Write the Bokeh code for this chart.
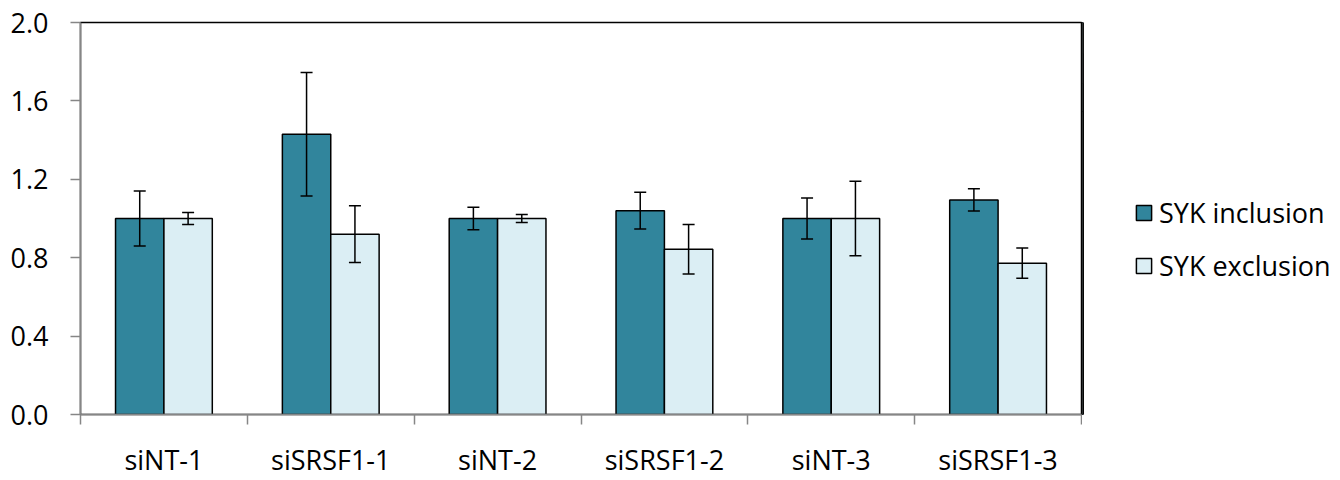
from bokeh.plotting import figure
from bokeh.layouts import row
from bokeh.models import (ColumnDataSource, Range1d, FixedTicker,
                          Whisker, TeeHead, Legend, LegendItem, NumeralTickFormatter)
from bokeh.transform import dodge
from bokeh.embed import file_html
from bokeh.resources import INLINE

categories = ["siNT-1", "siSRSF1-1", "siNT-2", "siSRSF1-2", "siNT-3", "siSRSF1-3"]
inclusion = [1.00, 1.43, 1.00, 1.04, 1.00, 1.095]
inclusion_err = [0.14, 0.315, 0.058, 0.094, 0.105, 0.057]
exclusion = [1.00, 0.92, 1.00, 0.843, 1.00, 0.772]
exclusion_err = [0.03, 0.145, 0.02, 0.126, 0.19, 0.077]
series_names = ["SYK inclusion", "SYK exclusion"]
y_ticks = [0.0, 0.4, 0.8, 1.2, 1.6, 2.0]

DARK = "#31859C"
LIGHT = "#DBEEF4"
FONT = "Open Sans"
FS = "27px"

n = len(categories)
centers = [i + 0.5 for i in range(n)]  # category slots on the x scale
src = ColumnDataSource(dict(
    pos=centers,
    cat=categories,
    inc=inclusion,
    inc_up=[v + e for v, e in zip(inclusion, inclusion_err)],
    inc_lo=[v - e for v, e in zip(inclusion, inclusion_err)],
    exc=exclusion,
    exc_up=[v + e for v, e in zip(exclusion, exclusion_err)],
    exc_lo=[v - e for v, e in zip(exclusion, exclusion_err)],
))

H = 480
MAIN_W, LEG_W = 1082, 258
LEFT, TOP, BOTTOM = 80, 22, 64
p = figure(width=MAIN_W, height=H, x_range=Range1d(0, n), y_range=Range1d(0, 2.0),
           output_backend="svg", toolbar_location=None,
           min_border_left=LEFT, min_border_top=TOP,
           min_border_bottom=BOTTOM, min_border_right=1)
p.xgrid.visible = False
p.ygrid.visible = False
p.outline_line_color = "black"
p.outline_line_width = 1.5
p.background_fill_color = "white"
p.border_fill_color = "white"

bw = 0.29
off = bw / 2
r1 = p.vbar(x=dodge("pos", -off), top="inc", width=bw, source=src,
            fill_color=DARK, line_color="black", line_width=1.5)
r2 = p.vbar(x=dodge("pos", off), top="exc", width=bw, source=src,
            fill_color=LIGHT, line_color="black", line_width=1.5)

for key, sign in (("inc", -1), ("exc", 1)):
    w = Whisker(source=src, base=dodge("pos", sign * off), level="overlay",
                upper=key + "_up", lower=key + "_lo", line_color="black", line_width=1.5,
                upper_head=TeeHead(size=12, line_color="black", line_width=1.5),
                lower_head=TeeHead(size=12, line_color="black", line_width=1.5))
    p.add_layout(w)

# y axis
ya = p.yaxis[0]
ya.ticker = FixedTicker(ticks=y_ticks)
ya.formatter = NumeralTickFormatter(format="0.0")
ya.axis_line_color = "#868686"
ya.axis_line_width = 1.5
ya.major_tick_line_color = "#868686"
ya.major_tick_line_width = 1.5
ya.major_tick_out = 10
ya.major_tick_in = 0
ya.minor_tick_line_color = None
ya.major_label_text_font = FONT
ya.major_label_text_font_size = FS
ya.major_label_text_color = "black"
ya.major_label_standoff = 22

# x axis: labels at centres, ticks at group boundaries
xa = p.xaxis[0]
xa.ticker = FixedTicker(ticks=centers, minor_ticks=list(range(n + 1)))
xa.major_label_overrides = {c: lab for c, lab in zip(centers, categories)}
xa.axis_line_color = "#868686"
xa.axis_line_width = 1.5
xa.major_tick_line_color = None
xa.major_tick_out = 0
xa.major_tick_in = 0
xa.minor_tick_line_color = "#868686"
xa.minor_tick_line_width = 1.5
xa.minor_tick_out = 10
xa.minor_tick_in = 0
xa.major_label_text_font = FONT
xa.major_label_text_font_size = FS
xa.major_label_text_color = "black"
xa.major_label_standoff = 16

# legend panel to the right of the plot area (its bars lie outside its visible range)
lf = figure(width=LEG_W, height=H, x_range=Range1d(100, 101), y_range=Range1d(0, 1),
            output_backend="svg", toolbar_location=None,
            min_border_left=0, min_border_right=0, min_border_top=0, min_border_bottom=0)
lf.axis.visible = False
lf.grid.visible = False
lf.outline_line_color = None
lf.border_fill_color = "white"
l1 = lf.vbar(x="pos", top="inc", width=bw, source=src,
             fill_color=DARK, line_color="black", line_width=1.5)
l2 = lf.vbar(x="pos", top="exc", width=bw, source=src,
             fill_color=LIGHT, line_color="black", line_width=1.5)
legend = Legend(items=[LegendItem(label=series_names[0], renderers=[l1]),
                       LegendItem(label=series_names[1], renderers=[l2])],
                location=(52, 130), orientation="vertical",
                border_line_color=None, background_fill_alpha=0,
                label_text_font=FONT, label_text_font_size=FS, label_text_color="black",
                glyph_width=19, glyph_height=19, label_height=26, spacing=16,
                padding=0, margin=0, label_standoff=6)
lf.add_layout(legend, "center")

layout = row(p, lf, spacing=0)
open("out.html", "w").write(file_html(layout, INLINE))
